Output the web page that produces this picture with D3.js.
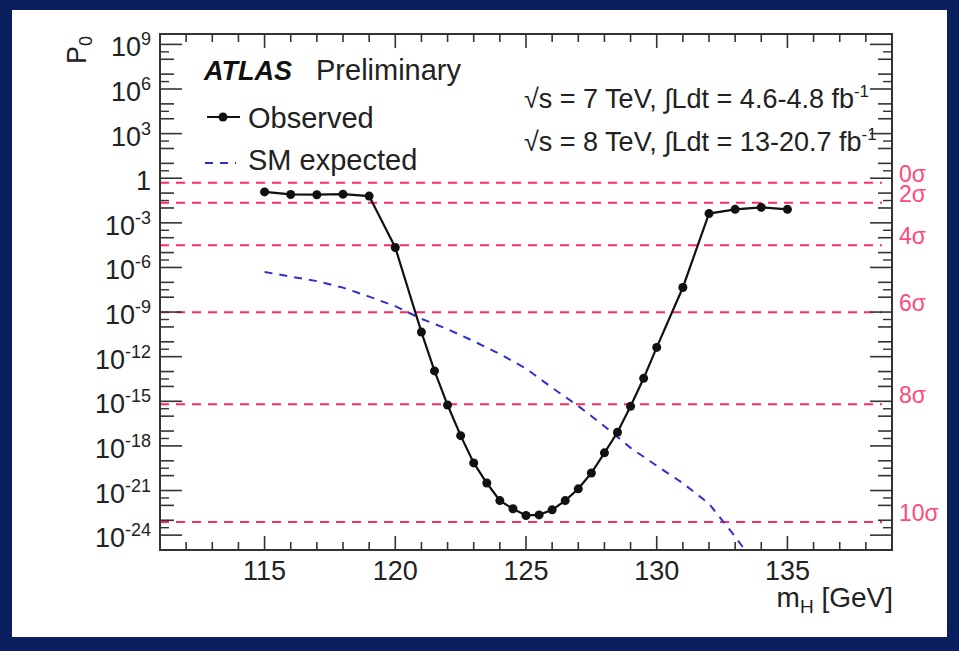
<!DOCTYPE html>
<html>
<head>
<meta charset="utf-8">
<script src="https://cdn.jsdelivr.net/npm/d3@7"></script>
<style>
  html, body { margin: 0; padding: 0; background: #0b1f5e; }
  svg { display: block; }
  text { font-family: "Liberation Sans", Arial, Helvetica, sans-serif; }
</style>
</head>
<body>
<svg id="chart" width="959" height="651"></svg>
<script>
// Observed local p0 versus Higgs mass
const obsMass = [115, 116, 117, 118, 119, 120, 121, 121.5, 122, 122.5, 123, 123.5, 124, 124.5,
  125, 125.5, 126, 126.5, 127, 127.5, 128, 128.5, 129, 129.5, 130, 131, 132, 133, 134, 135];
const obsP0 = [0.12, 0.081, 0.078, 0.085, 0.063, 2.2e-5, 4.5e-11, 1.1e-13, 5.6e-16, 4.9e-18,
  7.2e-20, 3.2e-21, 2.1e-22, 5.9e-23, 2.1e-23, 2.3e-23, 5.0e-23, 2.1e-22, 1.3e-21, 1.5e-20,
  3.4e-19, 8.3e-18, 4.6e-16, 3.5e-14, 4.2e-12, 4.5e-8, 4.2e-3, 8.1e-3, 1.1e-2, 8.1e-3];

// SM expected p0
const expMass = [115, 116, 117, 118, 119, 120, 121, 122, 123, 124, 125, 126, 127, 128, 129,
  130, 131, 132, 133, 133.5];
const expP0 = [5.0e-7, 2.4e-7, 1.2e-7, 4.4e-8, 1.1e-8, 2.5e-9, 3.5e-10, 7.1e-11, 1.1e-11,
  1.5e-12, 1.6e-13, 8.1e-15, 4.8e-16, 2.1e-17, 7.4e-19, 4.6e-20, 3.1e-21, 1.3e-22, 7.9e-25, 5e-26];

// Significance reference lines (one-sided p0 for n sigma)
const sigmaLabels = ["0σ", "2σ", "4σ", "6σ", "8σ", "10σ"];
const sigmaP0 = [0.5, 0.02275, 3.167e-5, 9.866e-10, 6.221e-16, 7.62e-24];

// Axis ticks
const xTickValues = [115, 120, 125, 130, 135];
const yLabelExponents = [9, 6, 3, 0, -3, -6, -9, -12, -15, -18, -21, -24];

const svg = d3.select("#chart");
const W = 959, H = 651;
const frame = { left: 160, right: 892, top: 34, bottom: 550 };

svg.append("rect").attr("width", W).attr("height", H).attr("fill", "#0b1f5e");
svg.append("rect").attr("x", 12).attr("y", 10).attr("width", 935).attr("height", 627).attr("fill", "#ffffff");

const x = d3.scaleLinear().domain([111, 139]).range([frame.left, frame.right]);
const y = d3.scaleLog().domain([1e-25, 5e9]).range([frame.bottom, frame.top]);

svg.append("defs").append("clipPath").attr("id", "plotClip")
  .append("rect").attr("x", frame.left).attr("y", frame.top)
  .attr("width", frame.right - frame.left).attr("height", frame.bottom - frame.top);

const plot = svg.append("g").attr("clip-path", "url(#plotClip)");

// sigma lines
const red = "#ff2a62";
plot.selectAll("line.sigma").data(sigmaP0).join("line")
  .attr("class", "sigma")
  .attr("x1", frame.left).attr("x2", frame.right - 10)
  .attr("y1", d => y(d)).attr("y2", d => y(d))
  .attr("stroke", red).attr("stroke-width", 2).attr("stroke-dasharray", "9,7");

svg.selectAll("text.sigma").data(sigmaP0).join("text")
  .attr("class", "sigma")
  .attr("x", frame.right + 7).attr("y", d => y(d) - 1)
  .attr("fill", "#ff4a78").attr("font-size", 23)
  .text((d, i) => sigmaLabels[i]);

// expected curve
const blue = "#2f2fcc";
const expData = expMass.map((m, i) => [m, expP0[i]]);
plot.append("path").datum(expData)
  .attr("d", d3.line().x(d => x(d[0])).y(d => y(d[1])))
  .attr("fill", "none").attr("stroke", blue).attr("stroke-width", 2)
  .attr("stroke-dasharray", "8,7");

// observed curve
const obsData = obsMass.map((m, i) => [m, obsP0[i]]);
plot.append("path").datum(obsData)
  .attr("d", d3.line().x(d => x(d[0])).y(d => y(d[1])))
  .attr("fill", "none").attr("stroke", "#111").attr("stroke-width", 2.2);
plot.selectAll("circle.obs").data(obsData).join("circle")
  .attr("class", "obs")
  .attr("cx", d => x(d[0])).attr("cy", d => y(d[1])).attr("r", 4.5).attr("fill", "#111");

// frame
const axisColor = "#333";
svg.append("rect").attr("x", frame.left).attr("y", frame.top)
  .attr("width", frame.right - frame.left).attr("height", frame.bottom - frame.top)
  .attr("fill", "none").attr("stroke", axisColor).attr("stroke-width", 2);

// x ticks (bottom and top, pointing inward)
const xMinor = d3.range(112, 139, 1);
const xTicks = svg.append("g");
xMinor.forEach(v => {
  const major = v % 5 === 0;
  const len = major ? 14 : 8;
  xTicks.append("line").attr("x1", x(v)).attr("x2", x(v))
    .attr("y1", frame.bottom).attr("y2", frame.bottom - len)
    .attr("stroke", axisColor).attr("stroke-width", 1.6);
  xTicks.append("line").attr("x1", x(v)).attr("x2", x(v))
    .attr("y1", frame.top).attr("y2", frame.top + len)
    .attr("stroke", axisColor).attr("stroke-width", 1.6);
});
svg.selectAll("text.xtick").data(xTickValues).join("text")
  .attr("class", "xtick")
  .attr("x", d => x(d)).attr("y", 580)
  .attr("text-anchor", "middle").attr("font-size", 27).attr("fill", "#222")
  .text(d => d);

// y ticks (left and right, pointing inward)
const yTicks = svg.append("g");
const decades = d3.range(-25, 10, 1);
decades.forEach(e => {
  const v = Math.pow(10, e);
  const labelled = e % 3 === 0;
  const len = labelled ? 22 : 14;
  [[frame.left, 1], [frame.right, -1]].forEach(([x0, dir]) => {
    yTicks.append("line").attr("x1", x0).attr("x2", x0 + dir * len)
      .attr("y1", y(v)).attr("y2", y(v))
      .attr("stroke", axisColor).attr("stroke-width", 1.6);
    if (e % 2 === 0 && e < 9) {
      const vm = Math.pow(10, e + 0.5);
      yTicks.append("line").attr("x1", x0).attr("x2", x0 + dir * 9)
        .attr("y1", y(vm)).attr("y2", y(vm))
        .attr("stroke", axisColor).attr("stroke-width", 1.4);
    }
  });
});

const yLab = svg.selectAll("text.ytick").data(yLabelExponents).join("text")
  .attr("class", "ytick")
  .attr("x", 151).attr("y", d => y(Math.pow(10, d)) + 12)
  .attr("text-anchor", "end").attr("font-size", 27).attr("fill", "#222");
yLab.each(function(d) {
  const t = d3.select(this);
  if (d === 0) { t.text("1"); return; }
  t.append("tspan").text("10");
  t.append("tspan").attr("dy", -11).attr("font-size", 18).text(String(d));
});

// axis titles
const yTitle = svg.append("text")
  .attr("transform", `translate(86,${frame.top + 2}) rotate(-90)`)
  .attr("text-anchor", "end").attr("font-size", 27).attr("fill", "#222");
yTitle.append("tspan").text("P");
yTitle.append("tspan").attr("dy", 6).attr("font-size", 18).text("0");

const xTitle = svg.append("text")
  .attr("x", frame.right + 1).attr("y", 607)
  .attr("text-anchor", "end").attr("font-size", 28).attr("fill", "#222");
xTitle.append("tspan").text("m");
xTitle.append("tspan").attr("dy", 6).attr("font-size", 19).text("H");
xTitle.append("tspan").attr("dy", -6).text(" [GeV]");

// ATLAS label
svg.append("text").attr("x", 204).attr("y", 80)
  .attr("font-size", 27).attr("font-weight", "bold").attr("font-style", "italic")
  .attr("fill", "#111").text("ATLAS");
svg.append("text").attr("x", 316).attr("y", 80)
  .attr("font-size", 29).attr("fill", "#222").text("Preliminary");

// legend
svg.append("line").attr("x1", 207).attr("x2", 240).attr("y1", 117).attr("y2", 117)
  .attr("stroke", "#111").attr("stroke-width", 2.2);
svg.append("circle").attr("cx", 223).attr("cy", 117).attr("r", 4.5).attr("fill", "#111");
svg.append("text").attr("x", 248).attr("y", 128).attr("font-size", 29).attr("fill", "#222").text("Observed");
svg.append("line").attr("x1", 205).attr("x2", 236).attr("y1", 163).attr("y2", 163)
  .attr("stroke", blue).attr("stroke-width", 2).attr("stroke-dasharray", "8,7");
svg.append("text").attr("x", 248).attr("y", 170).attr("font-size", 29).attr("fill", "#222").text("SM expected");

// luminosity labels
const lumi = [["7", "4.6-4.8"], ["8", "13-20.7"]];
lumi.forEach((l, i) => {
  const t = svg.append("text").attr("x", 524).attr("y", 108 + i * 43)
    .attr("font-size", 27).attr("fill", "#222");
  t.append("tspan").text(`√s = ${l[0]} TeV, ∫Ldt = ${l[1]} fb`);
  t.append("tspan").attr("dy", -11).attr("font-size", 17).text("-1");
});
</script>
</body>
</html>
